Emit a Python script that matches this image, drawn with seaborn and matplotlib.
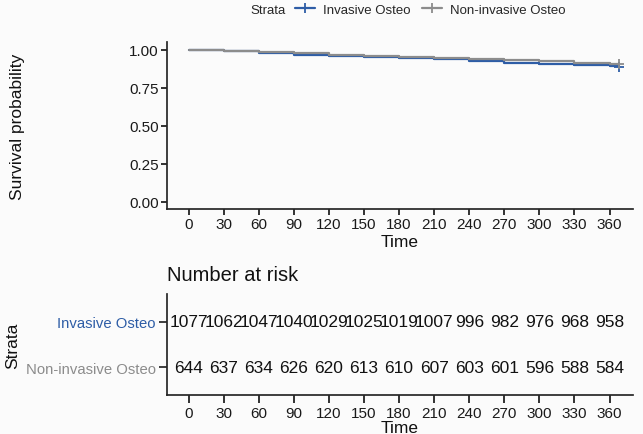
import numpy as np
import pandas as pd
import matplotlib
matplotlib.use("Agg")
import matplotlib.pyplot as plt
import seaborn as sns
from matplotlib.lines import Line2D

# survival estimates
times = [0, 30, 60, 90, 120, 150, 180, 210, 240, 270, 300, 330, 360, 368]
surv_inv = [1.0, 0.988, 0.975, 0.968, 0.958, 0.952, 0.946, 0.936, 0.926, 0.914, 0.906, 0.899, 0.891, 0.886]
surv_non = [1.0, 0.992, 0.986, 0.976, 0.966, 0.957, 0.949, 0.944, 0.939, 0.935, 0.926, 0.914, 0.906, 0.906]

risk_times = [0, 30, 60, 90, 120, 150, 180, 210, 240, 270, 300, 330, 360]
risk_inv = [1077, 1062, 1047, 1040, 1029, 1025, 1019, 1007, 996, 982, 976, 968, 958]
risk_non = [644, 637, 634, 626, 620, 613, 610, 607, 603, 601, 596, 588, 584]

groups = ["Invasive Osteo", "Non-invasive Osteo"]
colors = {"Invasive Osteo": "#2E5DA6", "Non-invasive Osteo": "#8C8C8C"}

sns.set_theme(style="ticks")
plt.rcParams['font.family'] = ['Liberation Sans', 'DejaVu Sans']
bg = "#FBFBFB"

df = pd.DataFrame({
    "Time": times * 2,
    "Survival": surv_inv + surv_non,
    "Strata": [groups[0]] * len(times) + [groups[1]] * len(times),
})

fig = plt.figure(figsize=(6.43, 4.35), dpi=100, facecolor=bg)

# ---- survival curves ----
ax = fig.add_axes([0.2597, 0.517, 0.7247, 0.384], facecolor=bg)
sns.lineplot(data=df, x="Time", y="Survival", hue="Strata", palette=colors,
             drawstyle="steps-post", linewidth=1.6, ax=ax, legend=False)
for g, s in zip(groups, [surv_inv, surv_non]):
    ax.plot([times[-1]], [s[-1]], marker="+", ms=7, mew=1.3, color=colors[g], ls="none")

ax.set_xlim(-18.4, 380)
ax.set_ylim(-0.05, 1.05)
ax.set_xticks(risk_times)
ax.set_yticks([0, 0.25, 0.5, 0.75, 1.0])
ax.set_yticklabels(["0.00", "0.25", "0.50", "0.75", "1.00"])
ax.set_xlabel("Time", fontsize=12.5, labelpad=2, color="#111111")
ax.set_ylabel("")
ax.tick_params(labelsize=11, colors="#1a1a1a", length=4, pad=2)
sns.despine(ax=ax)
fig.text(0.027, 0.517 + 0.384 / 2, "Survival probability", rotation=90,
         fontsize=12.5, ha="center", va="center", color="#111111")

# ---- legend ----
handles = [Line2D([], [], color=colors[g], lw=1.6, marker="+", ms=7, mew=1.3) for g in groups]
fig.legend(handles, groups, loc="center left", bbox_to_anchor=(0.459, 0.975), ncol=2,
           frameon=False, fontsize=9.5, handlelength=1.5, handletextpad=0.6,
           columnspacing=0.9, borderpad=0, borderaxespad=0)
fig.text(0.389, 0.975, "Strata", fontsize=9.5, va="center", ha="left")

# ---- risk table ----
axr = fig.add_axes([0.2597, 0.0897, 0.7247, 0.232], facecolor=bg)
for y, vals in zip([2, 1], [risk_inv, risk_non]):
    for t, v in zip(risk_times, vals):
        axr.text(t, y, str(v), ha="center", va="center", fontsize=12.5, color="#111111")
axr.set_xlim(-18.4, 380)
axr.set_ylim(0.4, 2.6)
axr.set_xticks(risk_times)
axr.set_yticks([2, 1])
axr.set_yticklabels(groups)
for lab, g in zip(axr.get_yticklabels(), groups):
    lab.set_color(colors[g])
axr.tick_params(axis="y", labelsize=10.7, pad=2)
axr.tick_params(axis="x", labelsize=11, colors="#1a1a1a", pad=2)
axr.set_xlabel("Time", fontsize=12.5, labelpad=0, color="#111111")
axr.set_ylabel("")
fig.text(0.02, 0.0897 + 0.116, "Strata", rotation=90, fontsize=12.5,
         ha="center", va="center", color="#111111")
axr.set_title("Number at risk", loc="left", fontsize=14.5, x=0.0, pad=10, color="#111111")
sns.despine(ax=axr)

fig.savefig("out.png", dpi=100, facecolor=bg)
